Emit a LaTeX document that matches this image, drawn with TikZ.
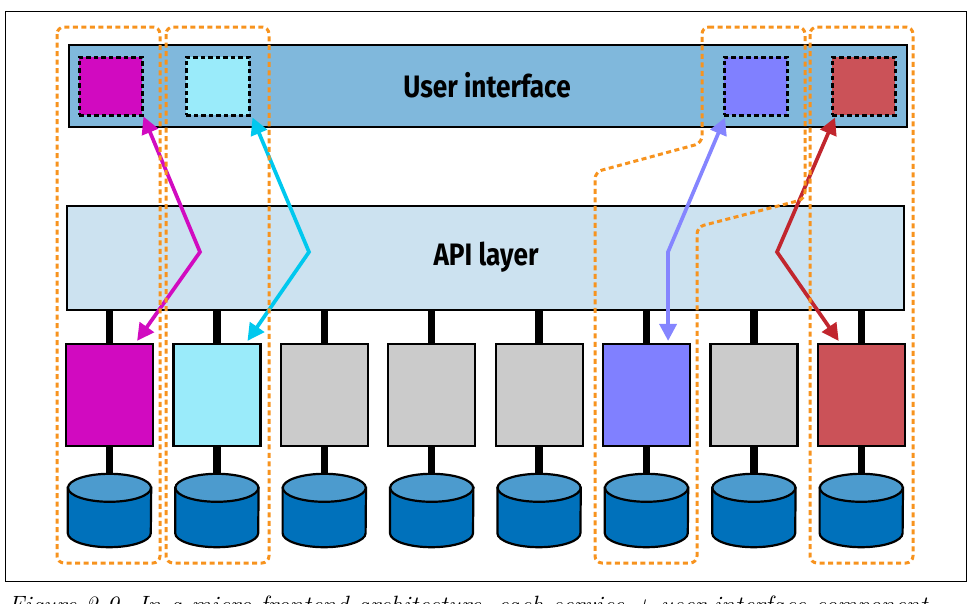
\documentclass[tikz,border=0pt]{standalone}
\usepackage{fontspec}
\newfontfamily\lblfont{Fira Sans}
\usetikzlibrary{arrows.meta,calc}
\definecolor{uibar}{HTML}{80B8DC}
\definecolor{apibar}{HTML}{CCE2F0}
\definecolor{svgray}{HTML}{CBCBCB}
\definecolor{svmag}{HTML}{D10AC0}
\definecolor{svcyan}{HTML}{9AEBFA}
\definecolor{svpurp}{HTML}{8080FF}
\definecolor{svred}{HTML}{CB5258}
\definecolor{dbbody}{HTML}{0071BB}
\definecolor{dbtop}{HTML}{4C9BCE}
\definecolor{orng}{HTML}{F7931E}
\definecolor{armag}{HTML}{D10BC0}
\definecolor{arcyan}{HTML}{00C8EE}
\definecolor{arpurp}{HTML}{8585FF}
\definecolor{arred}{HTML}{C1262E}
\tikzset{
  bar/.style={draw=black, line width=2.2pt, inner sep=0pt},
  uisq/.style={draw=black, line width=2.5pt, dash pattern=on 4.5pt off 3pt, minimum width=63pt, minimum height=58pt, inner sep=0pt},
  svc/.style={draw=black, line width=2.2pt, minimum width=87pt, minimum height=102pt, inner sep=0pt},
  dbnode/.style={inner sep=0pt, minimum width=83pt, minimum height=73pt},
  stub/.style={line width=7.5pt, black},
  dbline/.style={draw=black, line width=2.2pt},
  grp/.style={draw=orng, line width=3pt, dash pattern=on 5pt off 3.5pt, rounded corners=7pt},
  arr/.style={line width=3.7pt, {Triangle[length=17pt,width=17pt]}-{Triangle[length=17pt,width=17pt]}},
  lbl/.style={font=\lblfont\bfseries\fontsize{31}{36}\selectfont}
}
\begin{document}
\begin{tikzpicture}[x=1pt,y=-1pt]
\useasboundingbox (0,0) rectangle (970,603);
% frame
\node[draw=black, line width=1.2pt, minimum width=961pt, minimum height=570pt, inner sep=0pt, anchor=north west] (frame) at (5,11) {};
% UI bar
\node[bar, fill=uibar, minimum width=838pt, minimum height=82pt, anchor=north west] (ui) at (68,44) {};
\node[lbl] (uitxt) at (487,85) {\scalebox{0.845}[1]{User interface}};
\node[uisq, fill=svmag, anchor=north west] (u1) at (78,56) {};
\node[uisq, fill=svcyan, anchor=north west] (u2) at (185,56) {};
\node[uisq, fill=svpurp, anchor=north west] (u6) at (723,56) {};
\node[uisq, fill=svred, anchor=north west] (u8) at (831,56) {};
% API bar
\node[bar, fill=apibar, minimum width=837pt, minimum height=104pt, anchor=north west] (api) at (66,205) {};
\node[lbl] (apitxt) at (486,257) {\scalebox{0.845}[1]{API layer}};
% services and databases
\foreach \i/\c in {1/svmag,2/svcyan,3/svgray,4/svgray,5/svgray,6/svpurp,7/svgray,8/svred} {
  \pgfmathsetmacro\cx{109.5+107.4*(\i-1)}
  \node[svc, fill=\c] (s\i) at (\cx,395) {};
  \node[dbnode] (d\i) at (\cx,510.5) {};
  \draw[stub] (api.south -| s\i.north) -- (s\i.north);
  \draw[stub] (s\i.south) -- (d\i.north);
  \path[dbline, fill=dbbody] ($(d\i.north west)+(0,14)$) -- ($(d\i.south west)+(0,-14)$)
     arc[start angle=180, end angle=360, x radius=41.5pt, y radius=14pt]
     -- ($(d\i.north east)+(0,14)$) -- cycle;
  \path[dbline, fill=dbtop] ($(d\i.north)+(0,14)$) ellipse[x radius=41.5pt, y radius=14pt];
}
% arrows
\coordinate (m1) at (200,252);
\coordinate (m2) at (309,252);
\coordinate (m6) at (668,252);
\coordinate (m8) at (777,252);
\draw[arr, armag] (u1.south east) -- (m1) -- ($(s1.north east)+(-17,-2)$);
\draw[arr, arcyan] ($(u2.south east)+(2,1)$) -- (m2) -- ($(s2.north east)+(-14,-2)$);
\draw[arr, arpurp] ($(u6.south west)+(2,1)$) -- (m6) -- ($(s6.north east)+(-23,-2)$);
\draw[arr, arred] ($(u8.south west)+(4,1)$) -- (m8) -- ($(s8.north west)+(22,-2)$);
% groups
\draw[grp] (57,27) rectangle (160,563);
\draw[grp] (166,27) rectangle (269,563);
\draw[grp] (702,27) -- (805,27) -- (805,199) -- (697,227) -- (697,563) -- (595,563) -- (595,172) -- (702,143) -- cycle;
\draw[grp] (810,27) rectangle (913,563);
% caption (cut off at the lower edge, as in the reference)
\node[anchor=base west, inner sep=0pt, font=\fontsize{25}{30}\selectfont\itshape] (cap) at (8,613) {Figure 2-9. In a micro frontend architecture, each service + user interface component};
\end{tikzpicture}
\end{document}
